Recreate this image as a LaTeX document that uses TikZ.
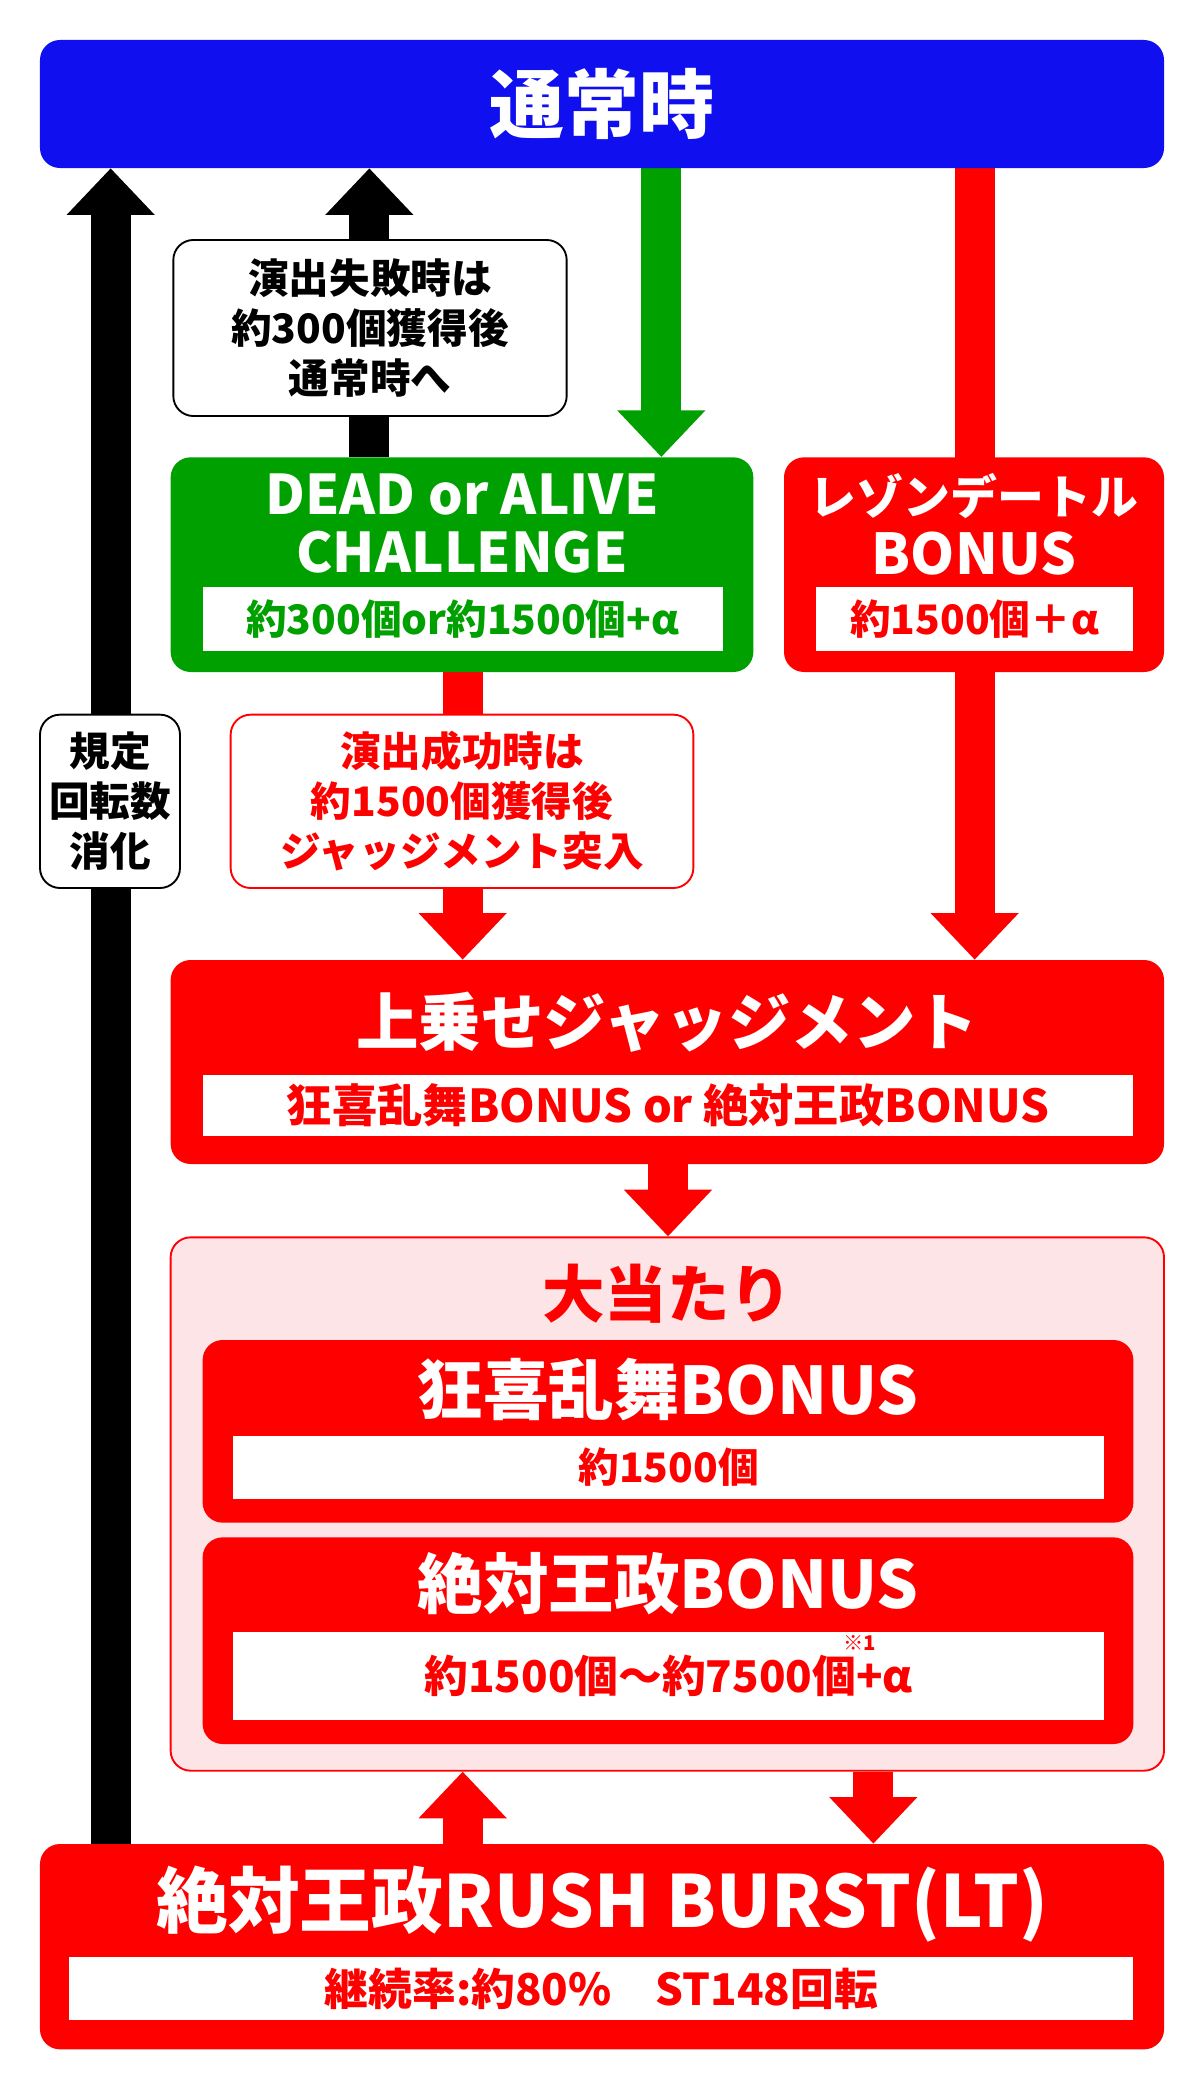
\documentclass[tikz,border=0pt]{standalone}
\usepackage{fontspec}
\setmainfont{Noto Sans CJK JP}
\usetikzlibrary{arrows.meta,backgrounds,positioning}
\definecolor{topblue}{RGB}{15,15,240}
\definecolor{dagreen}{RGB}{0,160,0}
\definecolor{hotred}{RGB}{255,0,0}
\definecolor{softpink}{RGB}{253,228,230}
\tikzset{
box/.style={
  rectangle,
  rounded corners=0.45cm,
  inner sep=0pt,
  font=\bfseries},
redbox/.style={box, fill=hotred, text=white},
greenbox/.style={box, fill=dagreen, text=white},
notebox/.style={box, draw=black, line width=1.2pt, fill=white, align=center,
  font=\bfseries\fontsize{26}{32}\selectfont},
inner/.style={rectangle, fill=white, inner sep=0pt, font=\bfseries\fontsize{26}{30}\selectfont},
title/.style={text=white, font=\bfseries\fontsize{40}{44}\selectfont, align=center},
fat/.style={line width=0.9cm, -{Triangle[length=1.05cm, width=1.92cm]}},
blackarrow/.style={fat, draw=black},
redarrow/.style={fat, draw=hotred},
greenarrow/.style={fat, draw=dagreen}
}
\begin{document}
\begin{tikzpicture}[x=0.03cm, y=-0.03cm]
    \useasboundingbox (0,0) rectangle (900,1561.5);
    % boxes
    \node [box, fill=topblue, minimum width=25.29cm, minimum height=2.88cm] (top) at (451.5,78) {};
    \node [title, font=\bfseries\fontsize{48}{50}\selectfont] at (top) {通常時};
    \node [notebox, minimum width=8.85cm, minimum height=3.96cm] (fail) at (277.5,246)
      {演出失敗時は\\約300個獲得後\\通常時へ};
    \node [greenbox, minimum width=13.11cm, minimum height=4.83cm] (dead) at (346.5,423.5) {};
    \node [title, font=\bfseries\fontsize{35}{37}\selectfont, anchor=north] at ([yshift=-0.25cm]dead.north)
      {DEAD or ALIVE\\CHALLENGE};
    \node [inner, text=dagreen, minimum width=11.7cm, minimum height=1.44cm] (deadval) at (347,464)
      {約300個or約1500個+α};
    \node [redbox, minimum width=8.55cm, minimum height=4.83cm] (legend) at (730.5,423.5) {};
    \node [title, font=\bfseries\fontsize{30}{38}\selectfont, anchor=north] at ([yshift=-0.25cm]legend.north)
      {レゾンデートル\\{\fontsize{36}{36}\selectfont BONUS}};
    \node [inner, text=hotred, minimum width=7.14cm, minimum height=1.44cm] (legendval) at (731,464)
      {約1500個＋α};
    \node [notebox, draw=hotred, text=hotred, minimum width=10.41cm, minimum height=3.9cm] (success) at (346.5,601)
      {演出成功時は\\約1500個獲得後\\ジャッジメント突入};
    \node [notebox, minimum width=3.15cm, minimum height=3.9cm] (spin) at (82.5,601)
      {規定\\回転数\\消化};
    \node [redbox, minimum width=22.35cm, minimum height=4.59cm] (judge) at (500.5,796.5) {};
    \node [title] at (500.5,767) {上乗せジャッジメント};
    \node [inner, text=hotred, font=\bfseries\fontsize{29}{30}\selectfont, minimum width=20.94cm, minimum height=1.38cm]
      (judgeval) at (501,829) {狂喜乱舞BONUS or 絶対王政BONUS};
    \node [box, fill=softpink, draw=hotred, line width=1.2pt, minimum width=22.35cm, minimum height=12cm] (hit) at (500.5,1128) {};
    \node [title, text=hotred] at (500.5,970) {大当たり};
    \node [redbox, minimum width=20.94cm, minimum height=4.11cm] (kyoki) at (501,1073.5) {};
    \node [title, font=\bfseries\fontsize{42}{44}\selectfont] at (501,1042) {狂喜乱舞BONUS};
    \node [inner, text=hotred, minimum width=19.59cm, minimum height=1.41cm] (kyokival) at (501.5,1100.5) {約1500個};
    \node [redbox, minimum width=20.94cm, minimum height=4.65cm] (zettai) at (501,1230.5) {};
    \node [title, font=\bfseries\fontsize{42}{44}\selectfont] at (501,1188) {絶対王政BONUS};
    \node [inner, text=hotred, font=\bfseries\fontsize{28}{30}\selectfont, minimum width=19.59cm, minimum height=1.98cm]
      (zettaival) at (501.5,1257) {約1500個～約7500個+α};
    \node [text=hotred, font=\bfseries\fontsize{13}{13}\selectfont, inner sep=0pt] (note) at (645,1232) {※1};
    \node [redbox, minimum width=25.29cm, minimum height=4.62cm] (rush) at (451.5,1460) {};
    \node [title, font=\bfseries\fontsize{46}{48}\selectfont] at (451.5,1428) {絶対王政RUSH BURST(LT)};
    \node [inner, text=hotred, font=\bfseries\fontsize{28}{30}\selectfont, minimum width=23.94cm, minimum height=1.41cm]
      (rushval) at (451,1491.5) {継続率:約80\%\quad ST148回転};
    % columns for the arrows
    \coordinate (colA) at (83,0);
    \coordinate (colB) at (277,0);
    \coordinate (colC) at (496,0);
    \coordinate (colD) at (731,0);
    \coordinate (colE) at (347,0);
    \coordinate (colF) at (501,0);
    \coordinate (colG) at (655,0);
    \begin{scope}[on background layer]
      \draw [blackarrow] (rush.north -| colA) -- (top.south -| colA);
      \draw [blackarrow] (dead.north -| colB) -- (top.south -| colB);
      \draw [greenarrow] (top.south -| colC) -- (dead.north -| colC);
      \draw [redarrow] (top.south -| colD) -- (judge.north -| colD);
      \draw [redarrow] (dead.south -| colE) -- (judge.north -| colE);
      \draw [redarrow] (judge.south -| colF) -- (hit.north -| colF);
      \draw [redarrow] (rush.north -| colE) -- (hit.south -| colE);
      \draw [redarrow] (hit.south -| colG) -- (rush.north -| colG);
    \end{scope}
\end{tikzpicture}
\end{document}
